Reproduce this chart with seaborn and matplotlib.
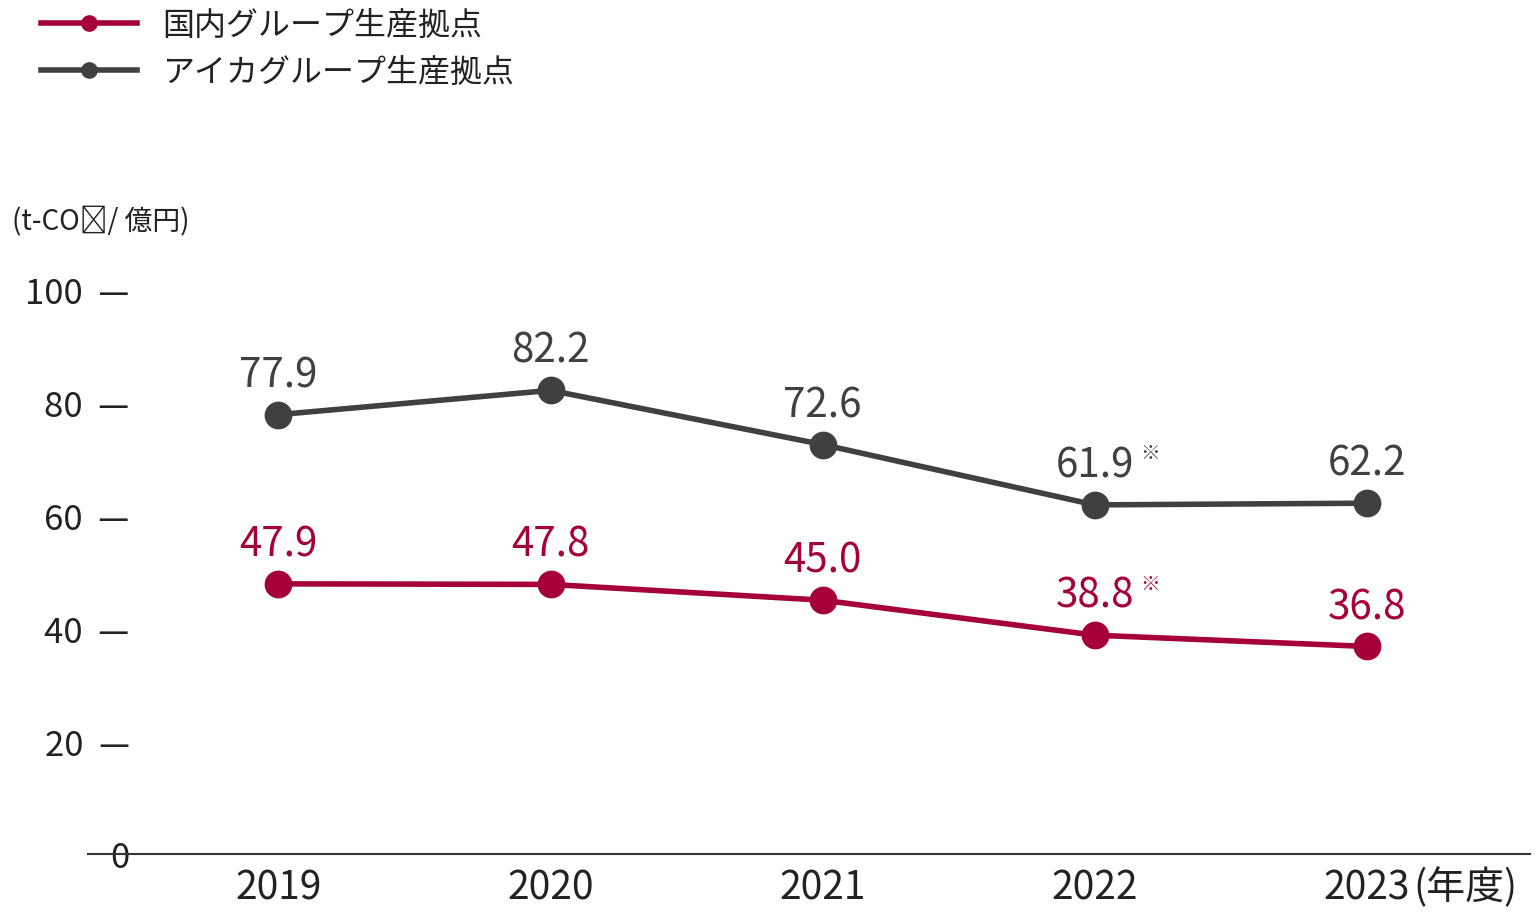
import pandas as pd
import matplotlib.pyplot as plt
import seaborn as sns
from matplotlib import rcParams

rcParams['font.family'] = 'Noto Sans CJK JP'

years = ['2019', '2020', '2021', '2022', '2023']
domestic = [47.9, 47.8, 45.0, 38.8, 36.8]
aica = [77.9, 82.2, 72.6, 61.9, 62.2]
series_names = ['国内グループ生産拠点', 'アイカグループ生産拠点']
note_year = '2022'
colors = {'国内グループ生産拠点': '#A6003A', 'アイカグループ生産拠点': '#404040'}

df = pd.DataFrame({
    'year': years * 2,
    'value': domestic + aica,
    'series': [series_names[0]] * len(years) + [series_names[1]] * len(years),
})
df['pos'] = df['year'].map({y: i for i, y in enumerate(years)})

fig = plt.figure(figsize=(15.38, 9.2), dpi=100)
ax = fig.add_axes([88 / 1538, 1 - 855 / 920, (1530 - 88) / 1538, (855 - 291) / 920])

sns.lineplot(data=df, x='pos', y='value', hue='series', hue_order=series_names,
             palette=colors, marker='o', markersize=20, linewidth=4,
             markeredgewidth=0, ax=ax, legend=False)

for name, vals in zip(series_names, [domestic, aica]):
    for i, v in enumerate(vals):
        ax.annotate(f'{v:.1f}', (i, v), xytext=(0, 14), textcoords='offset points',
                    ha='center', va='bottom', fontsize=29, color=colors[name])
        if years[i] == note_year:
            ax.annotate('※', (i, v), xytext=(40, 30), textcoords='offset points',
                        ha='center', va='bottom', fontsize=14, color=colors[name])

ax.set_xlim(-0.70, 4.6)
ax.set_ylim(0, 100)
ax.set_yticks([0, 20, 40, 60, 80, 100])
ax.set_yticklabels(['0', '20  —', '40  —', '60  —', '80  —', '100  —'], fontsize=25, color='#222222')
for lbl, t in zip(ax.get_yticklabels(), [0, 20, 40, 60, 80, 100]):
    if t == 0:
        lbl.set_x(0)
ax.tick_params(axis='y', length=0, pad=-30)
ax.set_xticks(range(len(years)))
ax.set_xticklabels(years, fontsize=28, color='#222222')
ax.tick_params(axis='x', length=0, pad=10)
ax.text(4.17, -0.022, '(年度)', transform=ax.get_xaxis_transform(), ha='left', va='top',
        fontsize=28, color='#222222')
ax.set_xlabel('')
ax.set_ylabel('')
for s in ['top', 'right', 'left']:
    ax.spines[s].set_visible(False)
ax.spines['bottom'].set_color('#333333')
ax.spines['bottom'].set_linewidth(1.5)
ax.grid(False)
ax.set_facecolor('white')

# shift the "0" label so its right edge lines up with the other numbers
zero = ax.get_yticklabels()[0]
zero.set_text('0     ')

fig.text(12 / 1538, 1 - 222 / 920, '(t-CO₂/ 億円)', fontsize=20, color='#222222', va='center')

handles = [plt.Line2D([], [], color=colors[n], marker='o', markersize=11, linewidth=4) for n in series_names]
fig.legend(handles, series_names, loc='upper left', bbox_to_anchor=(0.008, 1.02), frameon=False,
           fontsize=23, handlelength=3, labelspacing=0.45, labelcolor='#222222')

fig.savefig('out.png', dpi=100, facecolor='white')
